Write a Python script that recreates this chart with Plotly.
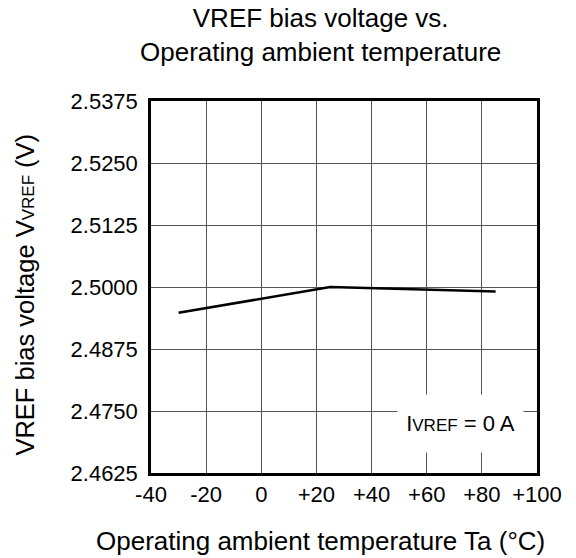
import plotly.graph_objects as go

# VREF bias voltage vs. operating ambient temperature
temperature = [-30, 25, 85]
vref_voltage = [2.4948, 2.5000, 2.4991]

x_ticks = [-40, -20, 0, 20, 40, 60, 80, 100]
x_ticktext = ["-40", "-20", "0", "+20", "+40", "+60", "+80", "+100"]
y_ticks = [2.4625, 2.4750, 2.4875, 2.5000, 2.5125, 2.5250, 2.5375]
y_ticktext = ["2.4625", "2.4750", "2.4875", "2.5000", "2.5125", "2.5250", "2.5375"]

FONT = "Liberation Sans, Arial, Helvetica, sans-serif"
SMALL = '<span style="font-size:17px">VREF</span>'

fig = go.Figure()
fig.add_trace(go.Scatter(x=temperature, y=vref_voltage, mode="lines",
                         line=dict(color="black", width=2.5), showlegend=False))

axis_common = dict(showgrid=True, gridcolor="#555555", gridwidth=1,
                   showline=True, linecolor="black", linewidth=2.5, mirror=True,
                   zeroline=False, ticks="", tickfont=dict(size=22, color="black"))

fig.update_xaxes(range=[-40, 100], tickvals=x_ticks, ticktext=x_ticktext, **axis_common)
fig.update_yaxes(range=[2.4625, 2.5375], tickvals=y_ticks, ticktext=y_ticktext,
                 ticklabelstandoff=6, **axis_common)

fig.update_layout(
    width=576, height=558,
    margin=dict(l=151, r=39, t=101, b=85),
    plot_bgcolor="white", paper_bgcolor="white",
    font=dict(family=FONT, color="black"),
    annotations=[
        dict(text="VREF bias voltage vs.<br>Operating ambient temperature",
             xref="paper", yref="paper", x=0.44, y=1.27, xanchor="center", yanchor="top",
             showarrow=False, font=dict(size=26)),
        dict(text="Operating ambient temperature Ta (°C)",
             xref="paper", yref="paper", x=0.44, y=-0.183, xanchor="center", yanchor="middle",
             showarrow=False, font=dict(size=26)),
        dict(text="VREF bias voltage V" + SMALL + " (V)", textangle=-90,
             xref="paper", yref="paper", x=-0.326, y=0.48, xanchor="center", yanchor="middle",
             showarrow=False, font=dict(size=25.5)),
        dict(text="I" + SMALL + " = 0 A",
             xref="paper", yref="paper", x=0.803, y=0.133, xanchor="center", yanchor="middle",
             width=125, height=57, bgcolor="white", borderpad=0,
             showarrow=False, font=dict(size=22)),
    ],
)

# drop the default 8px body margin so the figure sits at the page corner
fig.write_html("out.html", config={"displayModeBar": False},
               post_script="document.body.style.margin='0';")
